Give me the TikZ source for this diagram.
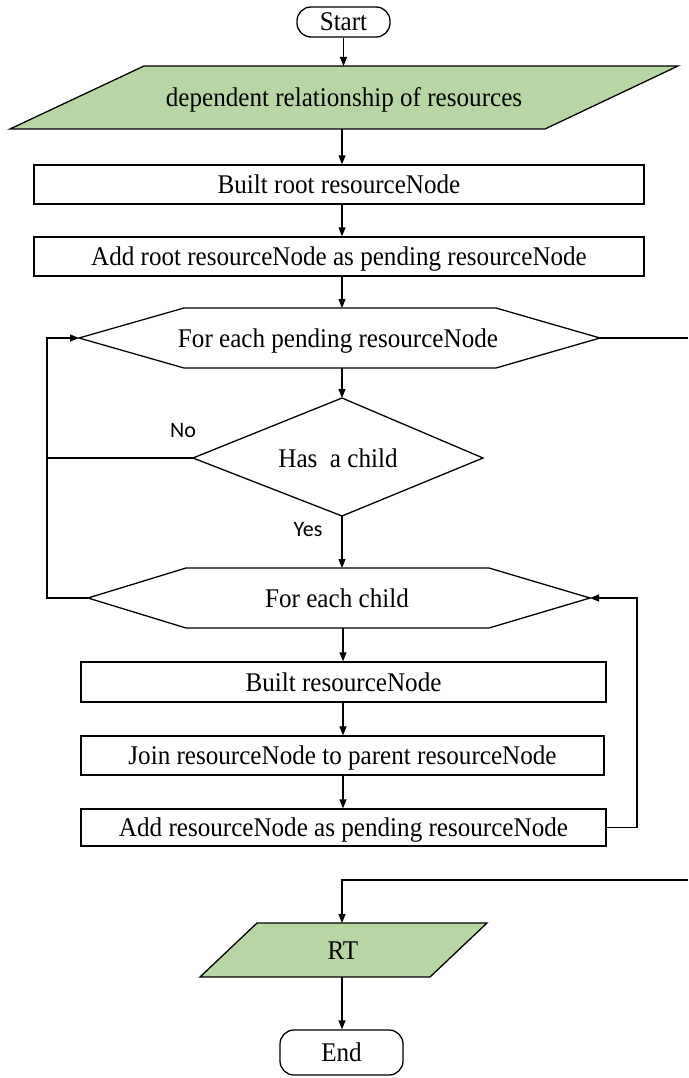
\documentclass[tikz,border=0pt]{standalone}
\usepackage{fontspec}
\setmainfont[FakeStretch=0.93]{Liberation Serif}
\newfontfamily\labelfont{Carlito}
\usetikzlibrary{arrows.meta}
\definecolor{iofill}{HTML}{B7D6A3}
\tikzset{
  shapeline/.style={draw=black, line width=1.3pt, line join=miter},
  maintext/.style={font=\fontsize{27}{27}\selectfont, inner sep=0pt, text height=18pt, text depth=0pt},
  procbox/.style={shapeline, rectangle, inner sep=0pt, maintext},
  termbox/.style={shapeline, rectangle, rounded corners=14pt, inner sep=0pt, maintext},
  iobox/.style={shapeline, fill=iofill},
  flowarrow/.style={line width=1.1pt, -{Triangle[length=9pt,width=7pt]}},
  flowline/.style={line width=1.1pt},
  branchlabel/.style={font=\labelfont\fontsize{22}{22}\selectfont, inner sep=0pt, text height=14pt, text depth=0pt}
}
\begin{document}
\begin{tikzpicture}[x=1pt,y=-1pt]
\useasboundingbox (0,0) rectangle (688,1078);

% terminals
\node[termbox, minimum width=93pt, minimum height=30pt] (start) at (343.5,22) {Start};
\node[termbox, minimum width=123pt, minimum height=45pt] (end) at (341.5,1052.5) {End};

% input parallelogram
\draw[iobox] (144,66) -- (678,66) -- (545,129) -- (10,129) -- cycle;
\node[maintext] (input) at (344,98) {dependent relationship of resources};
\coordinate (inN) at (343,66);
\coordinate (inS) at (342,129);

% process boxes
\node[procbox, minimum width=610pt, minimum height=39pt] (root) at (339,184.5) {Built root resourceNode};
\node[procbox, minimum width=610pt, minimum height=39pt] (pend) at (339,256.5) {Add root resourceNode as pending resourceNode};

% outer loop hexagon
\draw[shapeline] (79,338) -- (184,308) -- (496,308) -- (600,338) -- (496,368) -- (184,368) -- cycle;
\node[maintext] (outer) at (338,338) {For each pending resourceNode};
\coordinate (outN) at (342,308);
\coordinate (outS) at (342,368);
\coordinate (outW) at (79,338);
\coordinate (outE) at (600,338);

% decision
\draw[shapeline] (342,398) -- (483,458) -- (342,516) -- (193,458) -- cycle;
\node[maintext] (child) at (338,458) {Has\ \ a child};
\coordinate (decN) at (342,398);
\coordinate (decS) at (342,516);
\coordinate (decW) at (193,458);

% inner loop hexagon
\draw[shapeline] (88,598) -- (186,568) -- (489,568) -- (590,598) -- (489,628) -- (186,628) -- cycle;
\node[maintext] (inner) at (337,598) {For each child};
\coordinate (innN) at (342,568);
\coordinate (innS) at (343,628);
\coordinate (innW) at (88,598);
\coordinate (innE) at (590,598);

% inner loop body
\node[procbox, minimum width=525pt, minimum height=40pt] (build) at (343.5,682) {Built resourceNode};
\node[procbox, minimum width=523pt, minimum height=39pt] (join) at (342.5,755.5) {Join resourceNode to parent resourceNode};
\node[procbox, minimum width=525pt, minimum height=37pt] (addp) at (343.5,827.5) {Add resourceNode as pending resourceNode};

% output parallelogram
\draw[iobox] (257,923) -- (487,923) -- (430,977) -- (200,977) -- cycle;
\node[maintext] (rt) at (343,950) {RT};
\coordinate (rtN) at (342,923);
\coordinate (rtS) at (342,977);

% routing points
\coordinate (leftrail) at (47,458);
\coordinate (rightrail) at (637,598);
\coordinate (exitR) at (688,338);
\coordinate (enterR) at (688,880);

% connectors
\draw[flowarrow] (start.south) -- (start.south |- inN);
\draw[flowarrow] (inS) -- (root.north -| inS);
\draw[flowarrow] (root.south -| inS) -- (pend.north -| inS);
\draw[flowarrow] (pend.south -| outN) -- (outN);
\draw[flowarrow] (outS) -- (decN);
\draw[flowline] (decW) -- (leftrail);
\draw[flowarrow] (innW) -| (leftrail) |- (outW);
\draw[flowarrow] (decS) -- (innN);
\draw[flowarrow] (innS) -- (build.north -| innS);
\draw[flowarrow] (build.south -| innS) -- (join.north -| innS);
\draw[flowarrow] (join.south -| innS) -- (addp.north -| innS);
\draw[flowarrow] (addp.east) -| (rightrail) -- (innE);
\draw[flowline] (outE) -- (exitR);
\draw[flowarrow] (enterR) -| (rtN);
\draw[flowarrow] (rtS) -- (end.north -| rtS);

% branch labels
\node[branchlabel] (nolab) at (183,430) {No};
\node[branchlabel] (yeslab) at (308,529) {Yes};
\end{tikzpicture}
\end{document}
